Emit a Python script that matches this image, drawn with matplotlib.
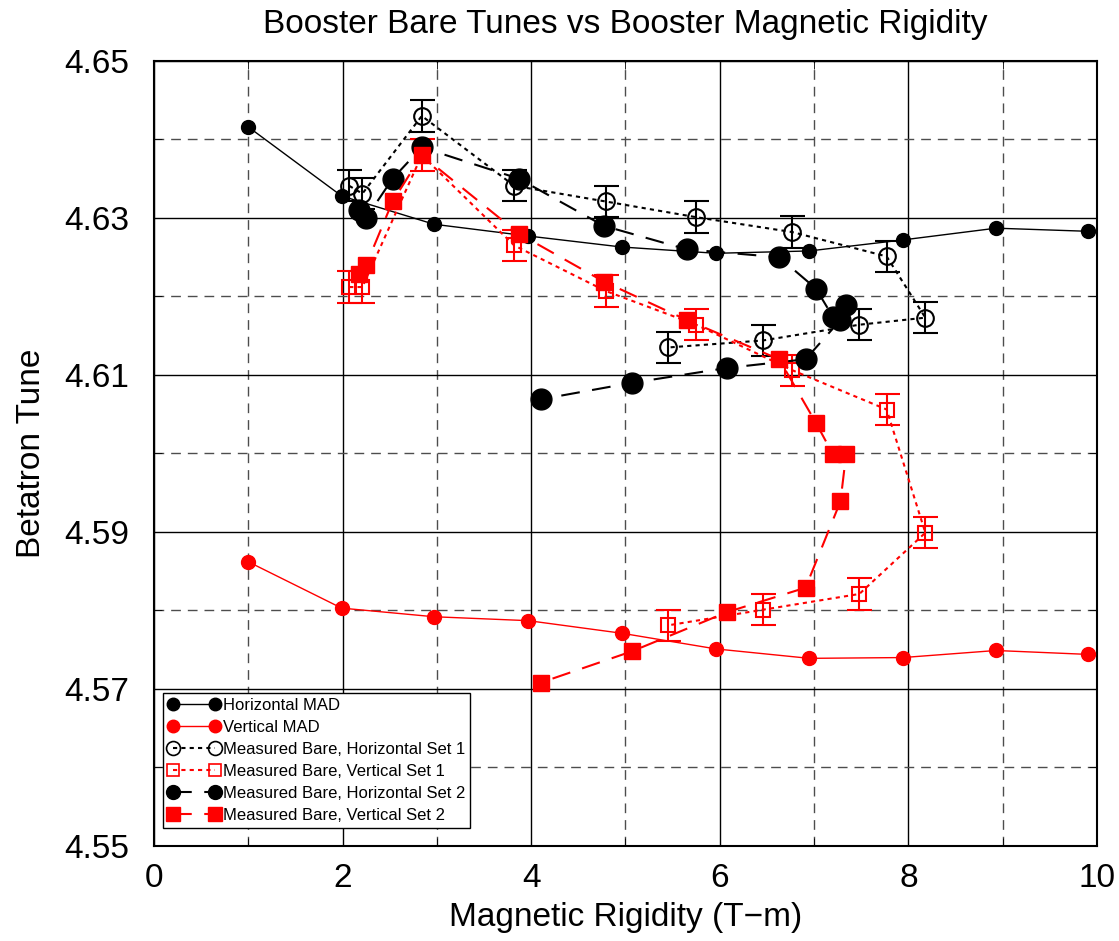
import matplotlib
matplotlib.use("Agg")
import matplotlib.pyplot as plt
from matplotlib.lines import Line2D
from matplotlib.ticker import FixedLocator, MultipleLocator, FormatStrFormatter

plt.rcParams['font.family'] = ['Liberation Sans', 'DejaVu Sans']

# Horizontal / Vertical MAD model
mad_x = [1.0, 1.99, 2.97, 3.97, 4.96, 5.96, 6.95, 7.94, 8.93, 9.91]
mad_h = [4.6416, 4.6328, 4.6292, 4.6277, 4.6263, 4.6255, 4.6258, 4.6272, 4.6287, 4.6283]
mad_v = [4.5862, 4.5803, 4.5792, 4.5787, 4.5771, 4.5751, 4.5739, 4.5740, 4.5749, 4.5744]

# Measured bare tunes, set 1 (with error bars)
set1_x = [2.07, 2.21, 2.84, 3.82, 4.79, 5.75, 6.77, 7.77, 8.18, 7.48, 6.46, 5.45]
set1_h = [4.6341, 4.6331, 4.6430, 4.6341, 4.6321, 4.6301, 4.6282, 4.6251, 4.6173, 4.6164, 4.6144, 4.6135]
set1_v = [4.6212, 4.6212, 4.6380, 4.6265, 4.6207, 4.6164, 4.6106, 4.6056, 4.5899, 4.5821, 4.5801, 4.5781]
set1_err = [0.002] * len(set1_x)

# Measured bare tunes, set 2
set2_x = [2.17, 2.25, 2.53, 2.84, 3.87, 4.77, 5.65, 6.63, 7.02, 7.20, 7.34, 7.28, 6.91, 6.08, 5.07, 4.10]
set2_h = [4.6310, 4.6300, 4.6350, 4.6390, 4.6350, 4.6290, 4.6260, 4.6250, 4.6210, 4.6174, 4.6189, 4.6170,
          4.6120, 4.6109, 4.6090, 4.6069]
set2_v = [4.6229, 4.6240, 4.6321, 4.6380, 4.6280, 4.6219, 4.6170, 4.6120, 4.6039, 4.5999, 4.5999, 4.5939,
          4.5829, 4.5798, 4.5748, 4.5708]

y_major = [4.55, 4.57, 4.59, 4.61, 4.63, 4.65]
y_minor = [4.56, 4.58, 4.60, 4.62, 4.64]

dot = (0, (2, 2))
dash = (0, (9, 6))

fig = plt.figure(figsize=(11.19, 9.41), dpi=100)
ax = fig.add_axes([0.1376, 0.101, 0.8427, 0.8342])

ax.plot(mad_x, mad_h, color="black", lw=1, marker="o", ms=10, zorder=3)
ax.plot(mad_x, mad_v, color="red", lw=1, marker="o", ms=10, zorder=3)

ax.errorbar(set1_x, set1_h, yerr=set1_err, color="black", ls=dot, lw=1.5, marker="o", ms=12,
            mfc="none", mec="black", mew=1.5, capsize=9, elinewidth=1.5, capthick=1.5, zorder=4)
ax.errorbar(set1_x, set1_v, yerr=set1_err, color="red", ls=dot, lw=1.5, marker="s", ms=10,
            mfc="none", mec="red", mew=1.5, capsize=9, elinewidth=1.5, capthick=1.5, zorder=4)

ax.plot(set2_x, set2_h, color="black", ls=dash, lw=1.5, marker="o", ms=15, zorder=5)
ax.plot(set2_x, set2_v, color="red", ls=dash, lw=1.5, marker="s", ms=11, zorder=5)

ax.set_xlim(0, 10)
ax.set_ylim(4.55, 4.65)
ax.xaxis.set_major_locator(MultipleLocator(2))
ax.xaxis.set_minor_locator(MultipleLocator(1))
ax.yaxis.set_major_locator(FixedLocator(y_major))
ax.yaxis.set_minor_locator(FixedLocator(y_minor))
ax.yaxis.set_major_formatter(FormatStrFormatter("%.2f"))

ax.grid(which="major", color="black", lw=1, ls="-")
ax.grid(which="minor", color="0.3", lw=1, ls=(0, (7, 5)))
ax.set_axisbelow(True)

ax.tick_params(which="both", direction="in", top=True, right=True, labelsize=24)
ax.tick_params(axis="y", pad=18)
ax.tick_params(axis="x", pad=12)
ax.tick_params(which="major", length=0)
ax.tick_params(which="minor", length=6)
for s in ax.spines.values():
    s.set_linewidth(1.5)

ax.set_xlabel("Magnetic Rigidity (T\u2212m)", fontsize=24, labelpad=6)
ax.set_ylabel("Betatron Tune", fontsize=24, labelpad=12)
ax.set_title("Booster Bare Tunes vs Booster Magnetic Rigidity", fontsize=24, pad=20)

handles = [
    Line2D([], [], color="black", lw=1, marker="o", ms=9),
    Line2D([], [], color="red", lw=1, marker="o", ms=9),
    Line2D([], [], color="black", ls=dot, lw=1.5, marker="o", ms=10, mfc="none", mew=1.2),
    Line2D([], [], color="red", ls=dot, lw=1.5, marker="s", ms=9, mfc="none", mew=1.2),
    Line2D([], [], color="black", ls=dash, lw=1.5, marker="o", ms=10),
    Line2D([], [], color="red", ls=dash, lw=1.5, marker="s", ms=10),
]
labels = ["Horizontal MAD", "Vertical MAD", "Measured Bare, Horizontal Set 1",
          "Measured Bare, Vertical Set 1", "Measured Bare, Horizontal Set 2",
          "Measured Bare, Vertical Set 2"]
leg = ax.legend(handles, labels, loc="lower left", bbox_to_anchor=(0.0095, 0.023), borderaxespad=0,
                numpoints=2, fontsize=12, fancybox=False, framealpha=1, edgecolor="black",
                handlelength=3.1, handletextpad=0.2, labelspacing=0.42, borderpad=0.3)
leg.get_frame().set_linewidth(1)

fig.savefig("out.png", dpi=100)
